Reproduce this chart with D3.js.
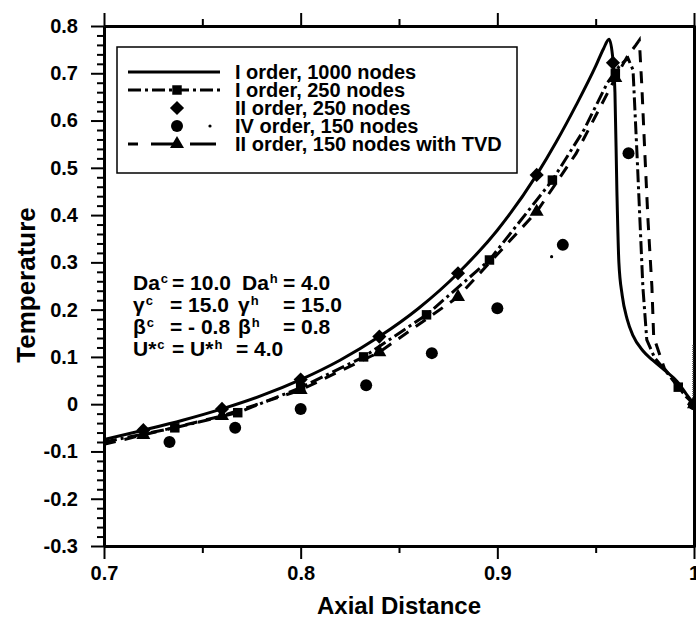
<!DOCTYPE html>
<html>
<head>
<meta charset="utf-8">
<script src="https://cdn.jsdelivr.net/npm/d3@7"></script>
<style>
  body { margin: 0; background: #fff; }
  text { font-family: "Liberation Sans", Arial, sans-serif; font-weight: bold; fill: #000; }
</style>
</head>
<body>
<script>
// axis ticks
var xTickVals = [0.7, 0.8, 0.9, 1.0];
var xTickLabels = ["0.7", "0.8", "0.9", "1"];
var xMinorVals = [0.75, 0.85, 0.95];
var yTickVals = [-0.3, -0.2, -0.1, 0, 0.1, 0.2, 0.3, 0.4, 0.5, 0.6, 0.7, 0.8];
var yTickLabels = ["-0.3", "-0.2", "-0.1", "0", "0.1", "0.2", "0.3", "0.4", "0.5", "0.6", "0.7", "0.8"];

// I order, 1000 nodes (solid line)
var solidX = [0.7, 0.72, 0.74, 0.76, 0.78, 0.8, 0.82, 0.84, 0.86, 0.88, 0.9, 0.92, 0.93, 0.94, 0.95, 0.954, 0.9568, 0.9585, 0.9598, 0.9608, 0.9618, 0.9635, 0.966, 0.969, 0.974, 0.979, 0.985, 0.9914, 0.996, 1.0];
var solidT = [-0.075, -0.055, -0.034, -0.01, 0.018, 0.052, 0.093, 0.143, 0.203, 0.277, 0.368, 0.485, 0.555, 0.632, 0.715, 0.752, 0.772, 0.74, 0.66, 0.45, 0.3, 0.23, 0.18, 0.145, 0.113, 0.093, 0.072, 0.048, 0.022, 0.0];

// I order, 250 nodes (dash-dot line + squares)
var ddX = [0.7, 0.736, 0.768, 0.8, 0.832, 0.864, 0.896, 0.928, 0.944, 0.956, 0.962, 0.9664, 0.969, 0.971, 0.9725, 0.974, 0.976, 0.98, 0.986, 0.992, 0.996, 1.0];
var ddT = [-0.08, -0.05, -0.018, 0.035, 0.1, 0.189, 0.305, 0.474, 0.58, 0.68, 0.715, 0.732, 0.707, 0.531, 0.39, 0.248, 0.136, 0.098, 0.068, 0.036, 0.016, 0.0];
var squareX = [0.736, 0.768, 0.8, 0.832, 0.864, 0.896, 0.928, 0.96, 0.992];
var squareT = [-0.05, -0.018, 0.035, 0.1, 0.189, 0.305, 0.474, 0.7, 0.036];

// II order, 250 nodes (diamonds)
var diamondX = [0.72, 0.76, 0.8, 0.84, 0.88, 0.92, 0.9588, 1.0];
var diamondT = [-0.055, -0.01, 0.052, 0.143, 0.277, 0.485, 0.722, 0.0];

// IV order, 150 nodes (circles + sparse dots)
var circleX = [0.7333, 0.7667, 0.8, 0.8333, 0.8667, 0.9, 0.9333, 0.9667, 1.0];
var circleT = [-0.08, -0.05, -0.01, 0.04, 0.108, 0.203, 0.337, 0.531, 0.0];
var ivDotX = [0.9276];
var ivDotT = [0.312];
var ivLineX = [0.9995, 0.9995];
var ivLineT = [0.125, 0.0];

// II order, 150 nodes with TVD (dashed line + triangles)
var tvdX = [0.7, 0.72, 0.76, 0.8, 0.84, 0.88, 0.92, 0.94, 0.96, 0.966, 0.9705, 0.9722, 0.9735, 0.975, 0.9766, 0.9786, 0.9795, 0.985, 0.992, 1.0];
var tvdT = [-0.085, -0.065, -0.025, 0.03, 0.11, 0.227, 0.407, 0.53, 0.69, 0.735, 0.76, 0.77, 0.671, 0.531, 0.39, 0.248, 0.142, 0.075, 0.038, 0.0];
var triX = [0.72, 0.76, 0.8, 0.84, 0.88, 0.92, 0.96, 1.0];
var triT = [-0.065, -0.025, 0.03, 0.11, 0.227, 0.407, 0.69, 0.0];

var legendLabels = ["I order, 1000 nodes", "I order, 250 nodes", "II order, 250 nodes", "IV order, 150 nodes", "II order, 150 nodes with TVD"];

var zip = function(xs, ys) { return xs.map(function(v, i) { return {x: v, t: ys[i]}; }); };

var margin = {top: 26, right: 2, bottom: 79, left: 104};
var width = 696 - margin.left - margin.right;
var height = 625 - margin.top - margin.bottom;

var svg = d3.select("body").append("svg")
    .attr("width", 696)
    .attr("height", 625)
    .style("background", "#fff");
var g = svg.append("g")
    .attr("transform", "translate(" + margin.left + "," + margin.top + ")");

var xscale = d3.scaleLinear().domain([0.7, 1.0]).range([0, width]);
var yscale = d3.scaleLinear().domain([-0.3, 0.8]).range([height, 0]);

g.append("clipPath").attr("id", "plotclip")
  .append("rect").attr("width", width).attr("height", height);

//Axes: major + minor ticks on all four sides, pointing outward
function styleAxis(sel) {
  sel.select(".domain").attr("stroke-width", 3).attr("stroke", "#000");
  sel.selectAll(".tick line").attr("stroke-width", 2).attr("stroke", "#000");
  sel.attr("font-family", null).attr("font-size", null);
  sel.selectAll("text").style("font-size", "20px");
}
var xMajor = function(ax) { return ax.tickValues(xTickVals).tickSize(13).tickSizeOuter(0)
    .tickFormat(function(d, i) { return xTickLabels[i]; }).tickPadding(7); };
var yMajor = function(ax) { return ax.tickValues(yTickVals).tickSize(13).tickSizeOuter(0)
    .tickFormat(function(d, i) { return yTickLabels[i]; }).tickPadding(13); };
var yMinorVals = d3.range(-0.28, 0.8, 0.02).filter(function(v) { return Math.abs(v * 10 - Math.round(v * 10)) > 0.01; });

g.append("g").attr("transform", "translate(0," + height + ")")
  .call(d3.axisBottom(xscale).tickValues(xMinorVals).tickSize(7).tickSizeOuter(0).tickFormat("")).call(styleAxis);
g.append("g").attr("transform", "translate(0," + height + ")")
  .call(xMajor(d3.axisBottom(xscale))).call(styleAxis);
g.append("g")
  .call(d3.axisTop(xscale).tickValues(xMinorVals).tickSize(7).tickSizeOuter(0).tickFormat("")).call(styleAxis);
g.append("g")
  .call(d3.axisTop(xscale).tickValues(xTickVals).tickSize(13).tickSizeOuter(0).tickFormat("")).call(styleAxis);
g.append("g")
  .call(d3.axisLeft(yscale).tickValues(yMinorVals).tickSize(7).tickSizeOuter(0).tickFormat("")).call(styleAxis);
g.append("g")
  .call(yMajor(d3.axisLeft(yscale))).call(styleAxis);
g.append("g").attr("transform", "translate(" + width + ",0)")
  .call(d3.axisRight(yscale).tickValues(yMinorVals).tickSize(7).tickSizeOuter(0).tickFormat("")).call(styleAxis);
g.append("g").attr("transform", "translate(" + width + ",0)")
  .call(d3.axisRight(yscale).tickValues(yTickVals).tickSize(13).tickSizeOuter(0).tickFormat("")).call(styleAxis);

//Axis titles
g.append("text")
  .attr("x", width / 2).attr("y", height + 68)
  .attr("text-anchor", "middle")
  .style("font-size", "24px")
  .text("Axial Distance");
svg.append("text")
  .attr("transform", "translate(35," + 285 + ") rotate(-90)")
  .attr("text-anchor", "middle")
  .style("font-size", "26px")
  .text("Temperature");

//Curves
var line = d3.line().x(function(d) { return xscale(d.x); }).y(function(d) { return yscale(d.t); });
var curves = g.append("g").attr("clip-path", "url(#plotclip)");
curves.append("path").datum(zip(solidX, solidT))
  .attr("d", line.curve(d3.curveMonotoneX)).attr("fill", "none").attr("stroke", "#000").attr("stroke-width", 3)
  .attr("stroke-linejoin", "round");
line.curve(d3.curveLinear);
curves.append("path").datum(zip(ddX, ddT))
  .attr("d", line).attr("fill", "none").attr("stroke", "#000").attr("stroke-width", 3)
  .attr("stroke-dasharray", "13,4,3,4");
curves.append("path").datum(zip(tvdX, tvdT))
  .attr("d", line).attr("fill", "none").attr("stroke", "#000").attr("stroke-width", 3)
  .attr("stroke-dasharray", "12,9");
curves.append("path").datum(zip(ivLineX, ivLineT))
  .attr("d", line).attr("fill", "none").attr("stroke", "#444").attr("stroke-width", 1.5)
  .attr("stroke-dasharray", "1,1");

//Markers
var sq = d3.symbol().type(d3.symbolSquare).size(90);
var dia = d3.symbol().type(d3.symbolSquare).size(100);
var tri = d3.symbol().type(d3.symbolTriangle).size(85);
var mk = g.append("g");
mk.selectAll(".sq").data(zip(squareX, squareT)).enter().append("path")
  .attr("d", sq).attr("transform", function(d) { return "translate(" + xscale(d.x) + "," + yscale(d.t) + ")"; });
mk.selectAll(".dia").data(zip(diamondX, diamondT)).enter().append("path")
  .attr("d", dia).attr("transform", function(d) { return "translate(" + xscale(d.x) + "," + yscale(d.t) + ") rotate(45)"; });
mk.selectAll(".tri").data(zip(triX, triT)).enter().append("path")
  .attr("d", tri).attr("transform", function(d) { return "translate(" + xscale(d.x) + "," + yscale(d.t) + ")"; });
mk.selectAll(".circ").data(zip(circleX, circleT)).enter().append("circle")
  .attr("cx", function(d) { return xscale(d.x); }).attr("cy", function(d) { return yscale(d.t); }).attr("r", 6);
mk.selectAll(".ivdot").data(zip(ivDotX, ivDotT)).enter().append("circle")
  .attr("cx", function(d) { return xscale(d.x); }).attr("cy", function(d) { return yscale(d.t); }).attr("r", 1.6);

//Legend
var leg = svg.append("g");
leg.append("rect").attr("x", 117).attr("y", 47).attr("width", 400).attr("height", 126)
  .attr("fill", "#fff").attr("stroke", "#000").attr("stroke-width", 1.5);
legendLabels.forEach(function(lbl, i) {
  var cy = 72 + i * 18;
  leg.append("text").attr("x", 235).attr("y", cy + 7).style("font-size", "20px").text(lbl);
  if (i === 0) {
    leg.append("line").attr("x1", 128).attr("x2", 220).attr("y1", cy).attr("y2", cy).attr("stroke", "#000").attr("stroke-width", 3);
  } else if (i === 1) {
    leg.append("line").attr("x1", 128).attr("x2", 220).attr("y1", cy).attr("y2", cy).attr("stroke", "#000").attr("stroke-width", 3)
      .attr("stroke-dasharray", "13,4,3,4");
    leg.append("path").attr("d", sq).attr("transform", "translate(177," + cy + ")");
  } else if (i === 2) {
    leg.append("path").attr("d", dia).attr("transform", "translate(177," + cy + ") rotate(45)");
  } else if (i === 3) {
    leg.append("circle").attr("cx", 177).attr("cy", cy).attr("r", 6);
    leg.append("circle").attr("cx", 210).attr("cy", cy).attr("r", 1.6);
  } else {
    leg.append("line").attr("x1", 128).attr("x2", 220).attr("y1", cy).attr("y2", cy).attr("stroke", "#000").attr("stroke-width", 3)
      .attr("stroke-dasharray", "10,13,16,0");
    leg.append("path").attr("d", tri).attr("transform", "translate(177," + cy + ")");
  }
});

//Parameter annotation
var ann = svg.append("g").style("font-size", "21px");
function piece(x, y, main, sup) {
  var t = ann.append("text").attr("x", x).attr("y", y).text(main);
  if (sup) {
    var w = t.node().getComputedTextLength();
    ann.append("text").attr("x", x + w + 1).attr("y", y - 7).style("font-size", "13px").text(sup);
  }
}
piece(133, 290, "Da", "c"); piece(172, 290, "= 10.0"); piece(242, 290, "Da", "h"); piece(283, 290, "= 4.0");
piece(133, 312, "\u03b3", "c"); piece(170, 312, "= 15.0"); piece(238, 312, "\u03b3", "h"); piece(283, 312, "= 15.0");
piece(133, 334, "\u03b2", "c"); piece(170, 334, "= - 0.8"); piece(238, 334, "\u03b2", "h"); piece(283, 334, "= 0.8");
piece(133, 356, "U*", "c"); piece(172, 356, "= U*", "h"); piece(236, 356, "= 4.0");
</script>
</body>
</html>
